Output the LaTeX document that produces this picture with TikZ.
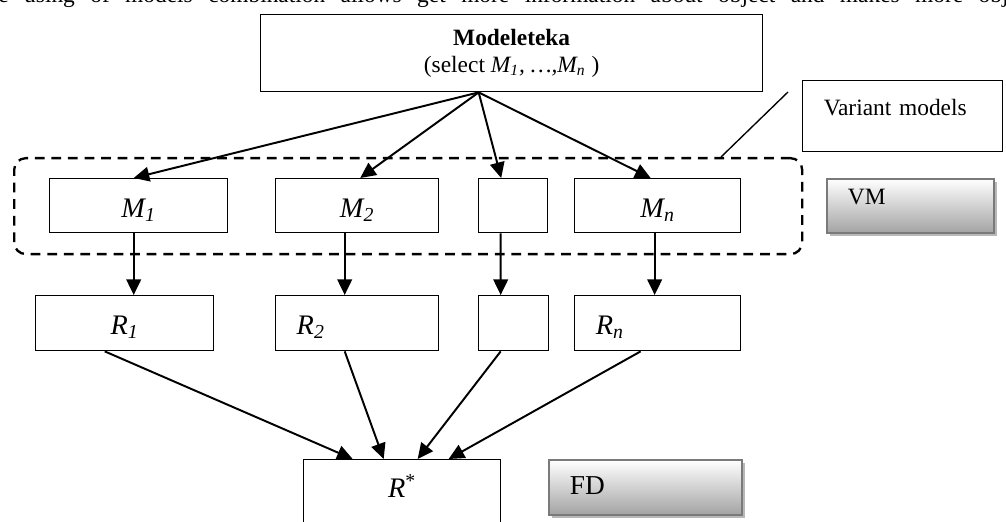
\documentclass[tikz,border=0pt]{standalone}
\usepackage{fontspec}
\setmainfont{Liberation Serif}
\usetikzlibrary{arrows.meta,calc,shadows}
\newcommand\px{0.5128pt}

\begin{document}
\begin{tikzpicture}[x=\px, y=-\px, font=\fontsize{12}{14}\selectfont,
	box/.style={draw, line width=0.7pt, inner sep=0pt, anchor=north west},
	big/.style={font=\fontsize{14.5}{17}\selectfont},
	greybox/.style={draw=black!52, line width=0.9pt, inner ysep=0pt, inner xsep=10.8pt,
		anchor=north west, align=left, top color=white, bottom color=black!36,
		drop shadow={shadow xshift=1.6pt, shadow yshift=-1.6pt, fill=black!28, opacity=1}},
	arr/.style={-{Triangle[length=8pt,width=7.5pt]}, line width=1pt},
	group/.style={draw, line width=1.2pt, dash pattern=on 5pt off 3.5pt, rounded corners=6pt,
		inner sep=0pt, anchor=north west}]
	\useasboundingbox (0,0) rectangle (1006,522);
	\clip (0,0) rectangle (1006,522);
	% cut line of the text above
	\node[anchor=base west, inner sep=0pt] (txt) at (-2,3)
		{\makebox[518pt][s]{e using of models combination allows get more information about object and makes more obj}};
	% library of models
	\node[box, minimum width=257.4pt, minimum height=39.5pt, align=center] (lib) at (260,14)
		{\textbf{Modeleteka}\\(select \textit{M\textsubscript{1}, …,M\textsubscript{n}} )};
	\node[box, inner xsep=10.8pt, text width=81pt, align=left, text height=17.9pt, text depth=18.5pt] (vnote) at (802,80) {Variant models};
	% variant models
	\node[group, minimum width=404.1pt, minimum height=49.2pt] (vmset) at (13,157) {};
	\coordinate (vtip) at (788,92);
	\draw[line width=0.7pt] (vtip) -- ($(vmset.north west)+(708,0)$);
	\node[box, big, minimum width=91.3pt, text height=20pt, text depth=7.7pt] (m1) at (49,178) {\textit{M\textsubscript{1}}};
	\node[box, big, minimum width=83.6pt, text height=20pt, text depth=7.7pt] (m2) at (275,178) {\textit{M\textsubscript{2}}};
	\node[box, minimum width=35.4pt, text height=20pt, text depth=7.7pt] (ms) at (478,178) {};
	\node[box, big, minimum width=85.1pt, text height=20pt, text depth=7.7pt] (mn) at (574,178) {\textit{M\textsubscript{n}}};
	\node[greybox, text width=64pt, text height=13.3pt, text depth=14.4pt] (vm) at (826,178) {VM};
	% results
	\node[box, big, minimum width=91.3pt, text height=20pt, text depth=8.2pt] (r1) at (35,295) {\textit{R\textsubscript{1}}};
	\node[box, big, inner xsep=10.8pt, text width=62pt, align=left, text height=20pt, text depth=8.2pt] (r2) at (275,295) {\textit{R\textsubscript{2}}};
	\node[box, minimum width=35.9pt, text height=20pt, text depth=8.2pt] (rs) at (478,295) {};
	\node[box, big, inner xsep=10.8pt, text width=63.5pt, align=left, text height=20pt, text depth=8.2pt] (rn) at (574,295) {\textit{R\textsubscript{n}}};
	\node[box, big, minimum width=101pt, text height=19.5pt, text depth=25.6pt] (rstar) at (303,459) {\textit{R}\textsuperscript{*}};
	\node[greybox, font=\fontsize{14}{16}\selectfont, text width=77.4pt, text height=17.9pt, text depth=10.3pt] (fd) at (548,459) {FD};
	% selection
	\coordinate (src) at ($(lib.south)+(-33,0)$);
	\draw[arr] (src) -- ($(m1.north)+(-5,0)$);
	\draw[arr] (src) -- ($(m2.north)+(3,0)$);
	\draw[arr] (src) -- ($(ms.north)+(-12,0)$);
	\draw[arr] (src) -- ($(mn.north)+(-7,0)$);
	\draw[arr] ($(m1.south)+(-5,0)$) -- ($(r1.north)+(9,0)$);
	\draw[arr] ($(m2.south)+(-12.5,0)$) -- ($(r2.north)+(-12.5,0)$);
	\draw[arr] ($(ms.south)+(-12.5,0)$) -- ($(rs.north)+(-13,0)$);
	\draw[arr] ($(mn.south)+(-3,0)$) -- ($(rn.north)+(-3,0)$);
	% combining
	\draw[arr] ($(r1.south)+(-20,0)$) -- ($(rstar.north)+(-49.5,0)$);
	\draw[arr] ($(r2.south)+(-12.5,0)$) -- ($(rstar.north)+(-18.5,0)$);
	\draw[arr] ($(rs.south)+(-13,0)$) -- ($(rstar.north)+(15.5,0)$);
	\draw[arr] ($(rn.south)+(-17,0)$) -- ($(rstar.north)+(46.5,0)$);
\end{tikzpicture}
\end{document}
